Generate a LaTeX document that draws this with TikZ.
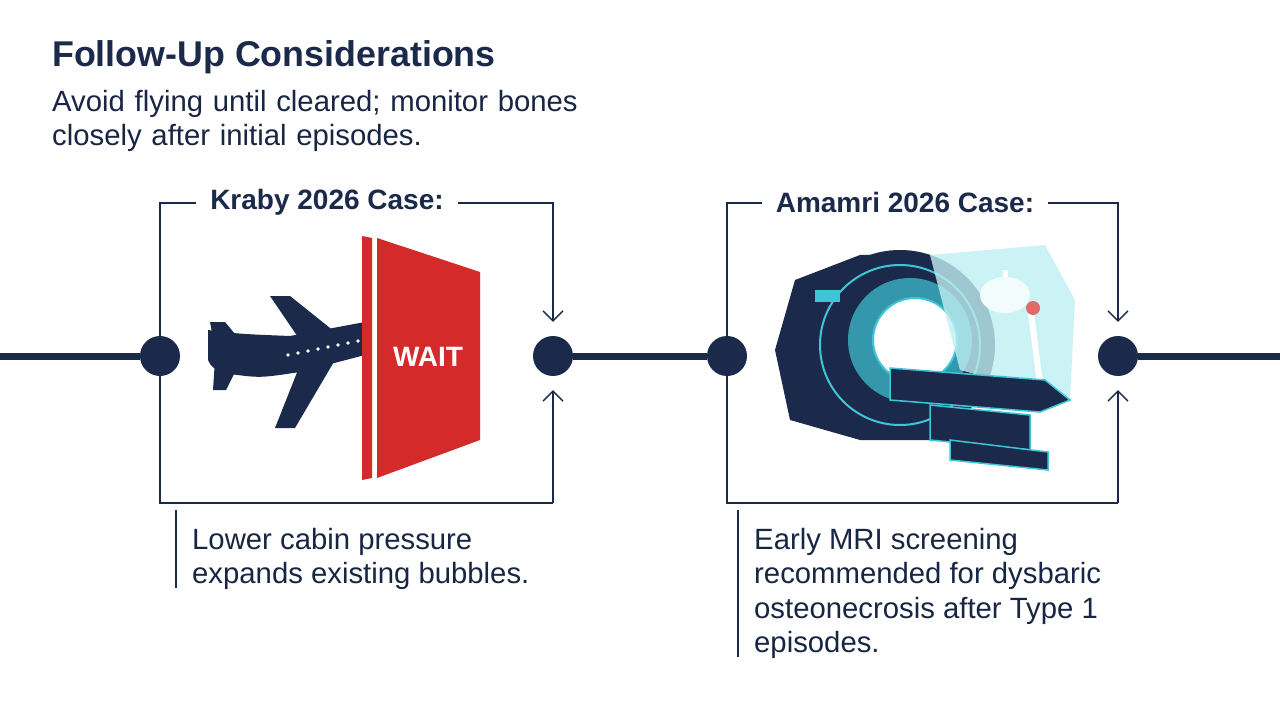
\documentclass[tikz,border=0pt]{standalone}
\usepackage{fontspec}
\setmainfont{Liberation Sans}
\usetikzlibrary{arrows.meta}
\definecolor{navy}{HTML}{1B2A4A}
\definecolor{wred}{HTML}{D42A2A}
\definecolor{cyanc}{HTML}{3FC6D6}
\definecolor{lcyan}{HTML}{BFEFF3}
\begin{document}
\begin{tikzpicture}[x=1pt,y=-1pt,
  frame/.style={draw=navy,line width=1.3pt},
  tl/.style={draw=navy,line width=7pt},
  dot/.style={circle,fill=navy,minimum size=40pt,inner sep=0pt},
  arr/.style={frame,-{Straight Barb[length=10pt,width=20pt]}},
  lbl/.style={font=\bfseries\fontsize{28}{32}\selectfont,text=navy,inner sep=0pt},
  body/.style={font=\fontsize{29.3}{34.5}\selectfont,text=navy!90!black,align=left,anchor=north west,inner sep=0pt}]
\useasboundingbox (0,0) rectangle (1280,714);
\fill[white] (0,0) rectangle (1280,714);
\node[anchor=west,inner sep=0pt,font=\bfseries\fontsize{35.8}{40}\selectfont,text=navy] (title) at (52,57) {Follow-Up Considerations};
\node[body,text width=700pt] (sub) at (52,90) {Avoid flying until cleared; monitor bones\\closely after initial episodes.};
% dots
\node[dot] (d1) at (160,356) {};
\node[dot] (d2) at (553,356) {};
\node[dot] (d3) at (727,356) {};
\node[dot] (d4) at (1118,356) {};
\coordinate (e0) at (0,356); \coordinate (e5) at (1280,356);
\draw[tl] (e0) -- (d1); \draw[tl] (d2) -- (d3); \draw[tl] (d4) -- (e5);
% left box
\node[lbl] (k) at (327,202) {Kraby 2026 Case:};
\coordinate (a1) at (160,203); \coordinate (a2) at (553,203);
\coordinate (a3) at (160,503); \coordinate (a4) at (553,503);
\draw[frame] (k.west) ++(-14,1) -- (a1) -- (d1.north);
\draw[arr] (k.east) ++(14,1) -- (a2) -- ([yshift=14pt]d2.north);
\draw[frame] (d1.south) -- (a3) -- (a4);
\draw[arr] (a4) -- ([yshift=-14pt]d2.south);
% right box
\node[lbl] (m) at (905,202) {Amamri 2026 Case:};
\coordinate (b1) at (727,203); \coordinate (b2) at (1118,203);
\coordinate (b3) at (727,503); \coordinate (b4) at (1118,503);
\draw[frame] (m.west) ++(-14,1) -- (b1) -- (d3.north);
\draw[arr] (m.east) ++(14,1) -- (b2) -- ([yshift=14pt]d4.north);
\draw[frame] (d3.south) -- (b3) -- (b4);
\draw[arr] (b4) -- ([yshift=-14pt]d4.south);
% texts
\coordinate (v1) at (176,510); \coordinate (v2) at (176,588);
\draw[frame] (v1) -- (v2);
\node[body] (t1) at (192,528) {Lower cabin pressure\\expands existing bubbles.};
\coordinate (w1) at (738,510); \coordinate (w2) at (738,657);
\draw[frame] (w1) -- (w2);
\node[body] (t2) at (754,528) {Early MRI screening\\recommended for dysbaric\\osteonecrosis after Type 1\\episodes.};
% plane
\fill[navy] (208,330) .. controls (240,334) .. (290,336) -- (365,322) -- (365,355) -- (300,372) .. controls (260,378) .. (230,374) .. controls (212,368) .. (208,360) -- cycle;
\fill[navy] (270,296) -- (290,296) -- (335,332) -- (300,340) -- cycle;
\fill[navy] (300,365) -- (335,360) -- (295,428) -- (275,428) -- cycle;
\fill[navy] (210,322) -- (225,322) -- (240,340) -- (215,348) -- cycle;
\fill[navy] (215,360) -- (240,362) -- (226,390) -- (213,390) -- cycle;
\foreach \x in {288,298,...,358} \fill[white] (\x,{355-(\x-288)*0.2}) circle (1.8);
% door
\fill[wred] (362,236) -- (372,238) -- (372,478) -- (362,480) -- cycle;
\fill[wred] (377,238) -- (480,272) -- (480,440) -- (377,478) -- cycle;
\node[font=\bfseries\fontsize{28}{30}\selectfont,text=white] (wait) at (428,357) {WAIT};
% MRI
\fill[navy] (795,280) -- (860,255) -- (930,255) -- (930,440) -- (860,440) -- (790,420) -- (775,350) -- cycle;
\fill[navy] (900,345) circle (95);
\draw[cyanc,line width=2pt] (900,345) circle (80);
\fill[cyanc!70!navy] (910,340) circle (62);
\fill[white] (915,340) circle (42);
\draw[cyanc,line width=2pt] (915,340) circle (42);
\fill[lcyan,opacity=0.8] (930,255) -- (1045,245) -- (1075,300) -- (1070,400) -- (960,370) -- cycle;
\draw[white,line width=5pt] (1005,270) -- (1005,300);
\fill[white!80!lcyan] (1005,295) ellipse (25 and 18);
\draw[white,line width=6pt,line cap=round] (1030,305) -- (1042,400);
\fill[wred!70] (1033,308) circle (7);
\fill[navy] (890,368) -- (1045,380) -- (1070,400) -- (1040,412) -- (890,400) -- cycle;
\draw[cyanc,line width=1.5pt] (890,368) -- (1045,380) -- (1070,400) -- (1040,412) -- (890,400) -- cycle;
\fill[navy] (930,405) -- (1030,415) -- (1030,450) -- (930,440) -- cycle;
\draw[cyanc,line width=1.5pt] (930,405) -- (1030,415) -- (1030,450) -- (930,440) -- cycle;
\fill[navy] (950,440) -- (1048,452) -- (1048,470) -- (950,460) -- cycle;
\draw[cyanc,line width=1.5pt] (950,440) -- (1048,452) -- (1048,470) -- (950,460) -- cycle;
\fill[cyanc] (815,290) rectangle (840,302);
\end{tikzpicture}
\end{document}
